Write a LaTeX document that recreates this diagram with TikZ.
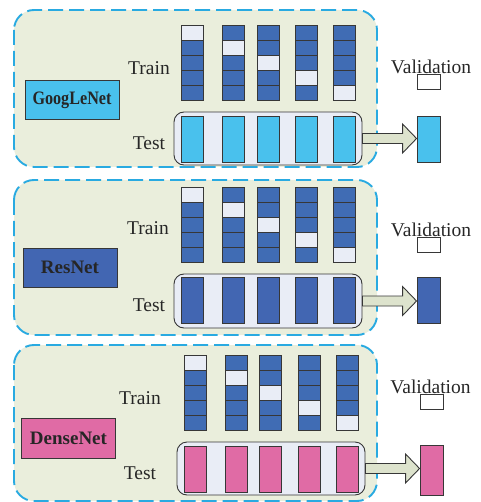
\documentclass[tikz,border=0pt]{standalone}
\usepackage{fontspec}
\setmainfont{Liberation Serif}
\usetikzlibrary{calc}
\definecolor{panelbg}{RGB}{234,238,220}
\definecolor{dashblue}{RGB}{41,170,225}
\definecolor{trainblue}{RGB}{64,108,180}
\definecolor{foldbg}{RGB}{233,237,246}
\definecolor{googcyan}{RGB}{73,193,237}
\definecolor{resblue}{RGB}{66,102,178}
\definecolor{densepink}{RGB}{224,107,165}
\definecolor{arrowbg}{RGB}{221,227,205}
\definecolor{edgegrey}{RGB}{55,55,55}
\tikzset{
  panel/.style={draw=dashblue,fill=panelbg,line width=1.9pt,
                dash pattern=on 15pt off 6pt,rounded corners=20pt},
  cell/.style={draw=edgegrey,line width=0.9pt,minimum width=22pt,
               minimum height=15pt,inner sep=0pt,fill=trainblue},
  foldbox/.style={draw=edgegrey,line width=0.9pt,fill=foldbg,
                  rounded corners=10pt,inner sep=0pt},
  bar/.style={draw=edgegrey,line width=0.9pt,minimum width=22pt,
              minimum height=46pt,inner sep=0pt},
  netbox/.style={draw=edgegrey,line width=0.9pt,minimum width=94pt,
                 minimum height=39pt,inner sep=0pt,text=black!85,
                 font=\fontsize{19}{22}\selectfont\bfseries},
  txt/.style={font=\fontsize{19.5}{22}\selectfont,inner sep=0pt,text=black!85},
  fatarrow/.style={draw=edgegrey,line width=0.9pt,fill=arrowbg,line join=miter},
}
% block arrow from the test fold to the validation bar
\newcommand{\foldarrow}[2]{%
  \draw[fatarrow] let \p1=(#1.east), \p2=(#2.west) in
    (\x1,\y1+5pt) -- (\x2-14pt,\y1+5pt) -- (\x2-14pt,\y1+14.5pt) -- (\x2,\y1)
    -- (\x2-14pt,\y1-14.5pt) -- (\x2-14pt,\y1-5pt) -- (\x1,\y1-5pt) -- cycle;}

\begin{document}
\begin{tikzpicture}[x=1pt,y=-1pt]
  \useasboundingbox (0,0) rectangle (480,502);

  % ---- GoogLeNet ----
  \draw[panel] (14,10) rectangle (377,167);
  \node[netbox,fill=googcyan] (gnet) at (72,100)
    {\scalebox{0.85}[1]{GoogLeNet}};
  \node[txt] (gtrain) at (149,68) {Train};
  \node[txt] (gtest) at (149,143) {Test};
  \node[txt] (gvalid) at (431,67) {Validation};
  \node[cell,fill=white,minimum width=23pt] (gvbox) at (428.5,81.5) {};
  \foreach \c/\x in {1/192.5,2/233.5,3/268,4/306,5/344.5}{
    \foreach \r in {1,...,5}{
      \ifnum\r=\c \def\cf{foldbg}\else\def\cf{trainblue}\fi
      \node[cell,fill=\cf] (gc\c-\r) at (\x,17.5+15*\r) {};
    }
  }
  \node[foldbox,minimum width=188pt,minimum height=53pt] (gfold) at (268,138.5) {};
  \foreach \c/\x in {1/192.5,2/233.5,3/268,4/306,5/344.5}
    \node[bar,fill=googcyan] (gtst\c) at (\x,139) {};
  \node[bar,fill=googcyan,minimum width=23pt] (gval) at (428.5,139) {};
  \foldarrow{gfold}{gval}

  % ---- ResNet ----
  \draw[panel] (14,180) rectangle (377,335);
  \node[netbox,fill=resblue] (rnet) at (70,267.5) {ResNet};
  \node[txt] (rtrain) at (148,228) {Train};
  \node[txt] (rtest) at (149,305) {Test};
  \node[txt] (rvalid) at (431,230) {Validation};
  \node[cell,fill=white,minimum width=23pt] (rvbox) at (428.5,245) {};
  \foreach \c/\x in {1/192.5,2/233.5,3/268,4/306,5/344.5}{
    \foreach \r in {1,...,5}{
      \ifnum\r=\c \def\cf{foldbg}\else\def\cf{trainblue}\fi
      \node[cell,fill=\cf] (rc\c-\r) at (\x,179.5+15*\r) {};
    }
  }
  \node[foldbox,minimum width=188pt,minimum height=54pt] (rfold) at (268,301) {};
  \foreach \c/\x in {1/192.5,2/233.5,3/268,4/306,5/344.5}
    \node[bar,fill=resblue] (rtst\c) at (\x,300.5) {};
  \node[bar,fill=resblue,minimum width=23pt] (rval) at (428.5,300.5) {};
  \foldarrow{rfold}{rval}

  % ---- DenseNet ----
  \draw[panel] (14,345) rectangle (377,501);
  \node[netbox,fill=densepink,minimum height=40pt] (dnet) at (68.5,438) {DenseNet};
  \node[txt] (dtrain) at (140,398) {Train};
  \node[txt] (dtest) at (140,473) {Test};
  \node[txt] (dvalid) at (430.5,387) {Validation};
  \node[cell,fill=white,minimum width=23pt] (dvbox) at (431.5,402) {};
  \foreach \c/\x in {1/195,2/236,3/270.5,4/309,5/347}{
    \foreach \r in {1,...,5}{
      \ifnum\r=\c \def\cf{foldbg}\else\def\cf{trainblue}\fi
      \node[cell,fill=\cf] (dc\c-\r) at (\x,347.5+15*\r) {};
    }
  }
  \node[foldbox,minimum width=188pt,minimum height=53pt] (dfold) at (271,468.5) {};
  \foreach \c/\x in {1/195,2/236,3/270.5,4/309,5/347}
    \node[bar,fill=densepink] (dtst\c) at (\x,469) {};
  \node[bar,fill=densepink,minimum width=23pt,minimum height=50pt] (dval) at (431.5,470) {};
  \foldarrow{dfold}{dval}
\end{tikzpicture}
\end{document}
